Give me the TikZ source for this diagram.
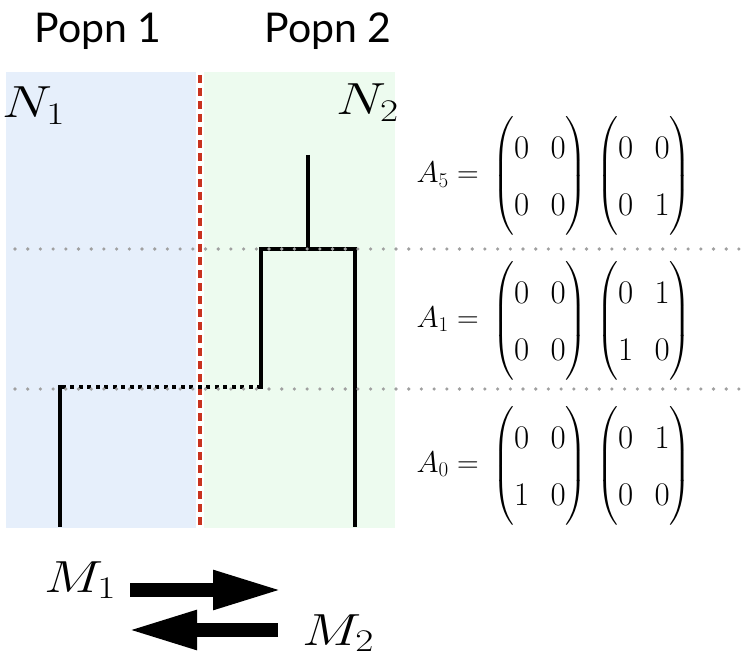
\documentclass[tikz,border=0pt]{standalone}
\usepackage{fix-cm}
\usepackage{amsmath}
\usepackage{fontspec}
\newfontfamily\popnfont{Lato}
\usetikzlibrary{arrows.meta}
\definecolor{popnblue}{RGB}{230,239,251}
\definecolor{popngreen}{RGB}{237,251,239}
\definecolor{migred}{RGB}{200,50,30}
\definecolor{epochgray}{RGB}{160,160,160}
\newcommand{\wide}[1]{\scalebox{1.25}[1]{#1}}
\begin{document}
\begin{tikzpicture}[x=1pt, y=-1pt,
	lineage/.style={line width=4pt, black, line cap=rect},
	epoch/.style={line width=3.6pt, epochgray, line cap=round, dash pattern=on 0pt off 12.7pt},
	bigmath/.style={font=\fontsize{45}{50}\selectfont, inner sep=0pt},
	popn/.style={font=\popnfont\fontsize{41}{46}\selectfont, inner sep=0pt, anchor=base},
	alabel/.style={font=\fontsize{30}{34}\selectfont, inner sep=0pt, anchor=base east},
	amat/.style={font={\fontsize{33}{40}\selectfont\setlength\arraycolsep{10.75pt}\renewcommand\arraystretch{1.42}}, inner sep=0pt},
	migarrow/.style={line width=14pt, -{Triangle[length=70pt, width=36pt]}}]
	\useasboundingbox (0,0) rectangle (749,660);
	
	%populations
	\fill[popnblue] (6,72) rectangle (196,528);
	\fill[popngreen] (204,72) rectangle (395,528);
	\draw[migred, line width=4.8pt, dash pattern=on 8pt off 5pt] (200,75) -- (200,528);
	\node (popn1) at (98,43) [popn]{Popn 1};
	\node (popn2) at (328,43) [popn]{Popn 2};
	\node (n1) at (2,118) [bigmath, anchor=base west]{\wide{$N_1$}};
	\node (n2) at (399,115) [bigmath, anchor=base east]{\wide{$N_2$}};
	
	%genealogy
	\coordinate (root) at (308,155);
	\coordinate (join5) at (308,249);
	\coordinate (j5l) at (261,249);
	\coordinate (j5r) at (355,249);
	\coordinate (j1r) at (261,387);
	\coordinate (j1l) at (60,387);
	\coordinate (leaf1) at (60,527);
	\coordinate (leaf2) at (355,527);
	\draw[lineage, line cap=butt] (root) -- (join5);
	\draw[lineage] (j5l) -- (j5r);
	\draw[lineage] (j5l) -- (j1r);
	\draw[lineage, line cap=butt] (j5r) -- (leaf2);
	\draw[lineage, line cap=butt, dash pattern=on 4pt off 4.5pt] (j1r) -- (j1l);
	\draw[lineage, line cap=butt] (j1l) ++(0,-2) -- (leaf1);
	
	%epochs
	\draw[epoch] (15,249) -- (749,249);
	\draw[epoch] (15,389) -- (749,389);
	
	%migration matrices
	\node (a5) at (479,183) [alabel]{$A_5 =$};
	\node (a1) at (479,327) [alabel]{$A_1 =$};
	\node (a0) at (479,472) [alabel]{$A_0 =$};
	\node (a5m) at (540,176) [amat]{$\begin{pmatrix}0&0\\0&0\end{pmatrix}$};
	\node (a5n) at (644,176) [amat]{$\begin{pmatrix}0&0\\0&1\end{pmatrix}$};
	\node (a1m) at (540,321) [amat]{$\begin{pmatrix}0&0\\0&0\end{pmatrix}$};
	\node (a1n) at (644,321) [amat]{$\begin{pmatrix}0&1\\1&0\end{pmatrix}$};
	\node (a0m) at (540,466) [amat]{$\begin{pmatrix}0&0\\1&0\end{pmatrix}$};
	\node (a0n) at (644,466) [amat]{$\begin{pmatrix}0&1\\0&0\end{pmatrix}$};
	
	%migration rates
	\node (m1) at (44,592) [bigmath, anchor=base west]{\wide{$M_1$}};
	\node (m2) at (302,645) [bigmath, anchor=base west]{\wide{$M_2$}};
	\coordinate (m1a) at (130,590);
	\coordinate (m1b) at (283,590);
	\coordinate (m2a) at (278,630);
	\coordinate (m2b) at (127,630);
	\draw[migarrow] (m1a) -- (m1b);
	\draw[migarrow] (m2a) -- (m2b);
\end{tikzpicture}
\end{document}
